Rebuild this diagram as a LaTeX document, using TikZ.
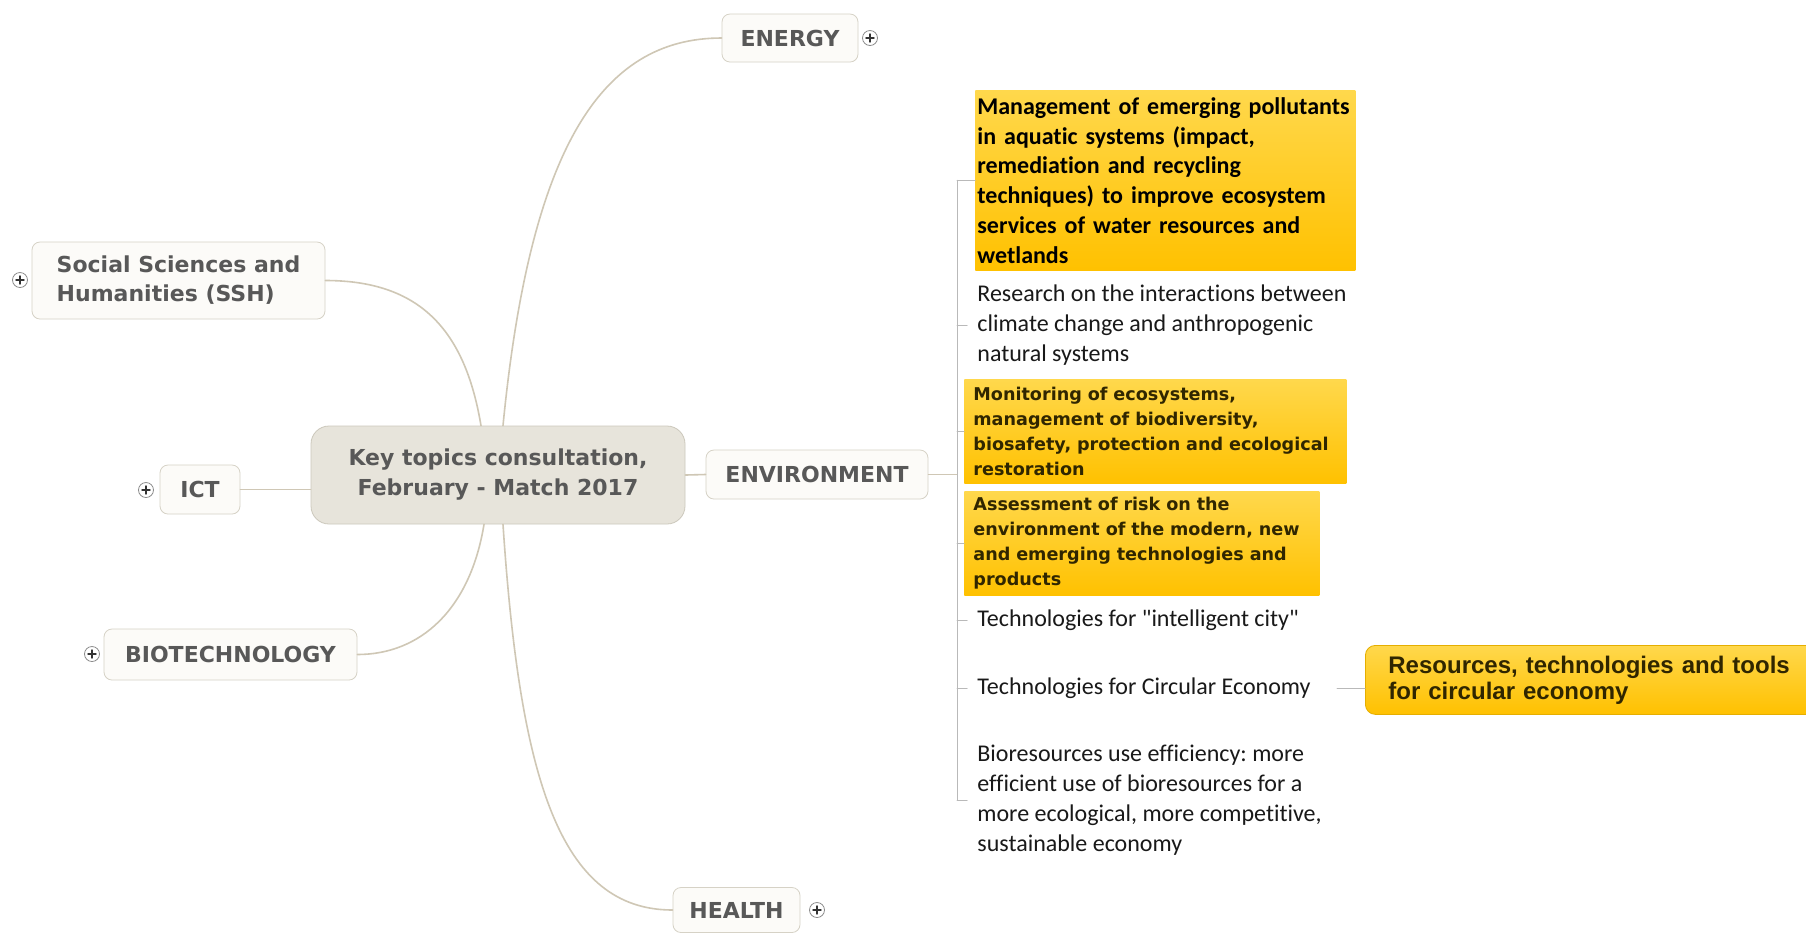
\documentclass[tikz,border=0pt]{standalone}
\usepackage{fontspec}
\setmainfont{DejaVu Sans}
\newfontfamily\calib{Carlito}[Ligatures=NoCommon]
\newfontfamily\arl{Liberation Sans}
\definecolor{lnk}{RGB}{207,199,181}
\definecolor{brd}{RGB}{214,210,198}
\definecolor{pap}{RGB}{252,251,248}
\definecolor{hub}{RGB}{231,228,219}
\definecolor{hubbrd}{RGB}{204,200,188}
\definecolor{lbl}{RGB}{88,88,88}
\definecolor{ylwtop}{RGB}{255,216,76}
\definecolor{ylwbot}{RGB}{255,193,0}
\definecolor{brk}{RGB}{185,185,185}
\definecolor{ink}{RGB}{48,38,0}
\frenchspacing
\begin{document}
\begin{tikzpicture}[x=0.5pt,y=-0.5pt,line join=round,line cap=round,
 topic/.style={draw=brd,fill=pap,rounded corners=4pt,text=lbl,inner sep=0pt,align=left,font=\bfseries\fontsize{11}{14.5}\selectfont},
 hubbox/.style={draw=hubbrd,fill=hub,rounded corners=9pt,text=lbl,inner sep=0pt,align=center,minimum width=187pt,minimum height=49pt,font=\bfseries\fontsize{11}{15}\selectfont},
 plus/.style={circle,draw=black!45,fill=white,minimum size=7.5pt,inner sep=0pt,
  path picture={\draw[black!80,line width=0.7pt] ([xshift=-2pt]path picture bounding box.center) -- ([xshift=2pt]path picture bounding box.center) ([yshift=-2pt]path picture bounding box.center) -- ([yshift=2pt]path picture bounding box.center);}},
 link/.style={draw=lnk,line width=0.8pt},
 twig/.style={draw=brk,line width=0.5pt},
 item/.style={anchor=west,inner xsep=5pt,inner ysep=0pt,align=left,text=black!90,font=\calib\fontsize{12}{14.9}\selectfont},
 hot/.style={anchor=north west,top color=ylwtop,bottom color=ylwbot,inner ysep=0pt,align=left}]
 \fill[white] (0,0) rectangle (1806,934);
 \useasboundingbox (0,0) rectangle (1806,934);
 % main topics
 \node[hubbox] (hub) at (498,475) {Key topics consultation,\\February - Match 2017};
 \node[topic,minimum width=68pt,minimum height=24pt] (energy) at (790,38) {ENERGY};
 \node[topic,minimum width=146.5pt,minimum height=38.5pt] (ssh) at (178.5,280.5) {Social Sciences and\\Humanities (SSH)};
 \node[topic,minimum width=40pt,minimum height=24.5pt] (ict) at (200,489.5) {ICT};
 \node[topic,minimum width=111pt,minimum height=24.5pt] (env) at (817,474.5) {ENVIRONMENT};
 \node[topic,minimum width=126.5pt,minimum height=25.5pt] (bio) at (230.5,654.5) {BIOTECHNOLOGY};
 \node[topic,minimum width=63.5pt,minimum height=22.5pt] (health) at (736.5,910) {HEALTH};
 \node[plus] (pE) at (870,38) {};
 \node[plus] (pS) at (20,280) {};
 \node[plus] (pI) at (146,490) {};
 \node[plus] (pB) at (92,654) {};
 \node[plus] (pH) at (817,910) {};
 \draw[link] ([xshift=-8.5pt]hub.north) .. controls (465,330) and (420,280.5) .. (ssh.east);
 \draw[link] ([xshift=2.5pt]hub.north) .. controls (530,150) and (600,38) .. (energy.west);
 \draw[link] ([xshift=-7pt]hub.south) .. controls (470,610) and (420,654.5) .. (bio.east);
 \draw[link] ([xshift=2.5pt]hub.south) .. controls (520,780) and (560,910) .. (health.west);
 \draw[link] (ict.east) -- (hub.west |- ict.east);
 \draw[link] (hub.east) -- (env.west);
 % environment items
 \node[hot,text=black,inner xsep=1pt,text width=188pt,minimum height=90pt,font=\calib\bfseries\fontsize{12}{14.9}\selectfont] (m1) at (975,90)
  {Management of emerging pollutants\\in aquatic systems (impact,\\remediation and recycling\\techniques) to improve ecosystem\\services of water resources and\\wetlands};
 \node[item] (n2) at (967,325) {Research on the interactions between\\climate change and anthropogenic\\natural systems};
 \node[hot,text=ink,inner xsep=4.5pt,text width=182pt,minimum height=52pt,font=\bfseries\fontsize{8.8}{12.5}\selectfont] (m3) at (964,379)
  {Monitoring of ecosystems,\\management of biodiversity,\\biosafety, protection and ecological\\restoration};
 \node[hot,text=ink,inner xsep=4.5pt,text width=168.5pt,minimum height=52pt,font=\bfseries\fontsize{8.8}{12.5}\selectfont] (m4) at (964,491)
  {Assessment of risk on the\\environment of the modern, new\\and emerging technologies and\\products};
 \node[item] (n5) at (967,620) {Technologies for "intelligent city"};
 \node[item] (n6) at (967,688) {Technologies for Circular Economy};
 \node[item] (n7) at (967,800) {Bioresources use efficiency: more\\efficient use of bioresources for a\\more ecological, more competitive,\\sustainable economy};
 \node[hot,draw=ylwbot!90!black,rounded corners=5pt,text=ink,inner xsep=11.5pt,text width=202pt,minimum height=34.5pt,font=\arl\bfseries\fontsize{12}{13}\selectfont] (res) at (1365,645)
  {Resources, technologies and tools\\for circular economy};
 \coordinate (brk) at (957,474.5);
 \draw[link] (env.east) -- (brk);
 \draw[twig] (brk |- m1.west) -- (brk |- n7.west);
 \foreach \n in {m1,n2,m3,m4,n5,n6,n7}
  \draw[twig] (brk |- \n.west) -- (\n.west);
 \draw[twig] ([xshift=8pt]n6.east) -- (res.west |- n6.east);
\end{tikzpicture}
\end{document}
